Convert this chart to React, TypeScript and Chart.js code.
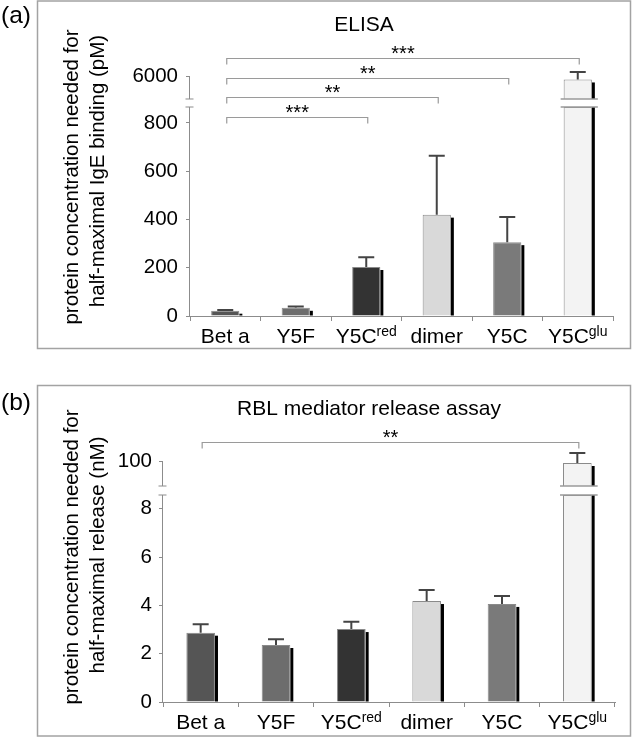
import React, { useEffect, useRef } from 'react';
import { Chart, registerables } from 'chart.js';

Chart.register(...registerables);

const FONT = '"Liberation Sans", Arial, Helvetica, sans-serif';
Chart.defaults.font.family = FONT;

// ---------- data ----------
const categories = ['Bet a', 'Y5F', 'Y5C', 'dimer', 'Y5C', 'Y5C'];
const categorySup = ['', '', 'red', '', '', 'glu'];
const barColors = ['#555555', '#6d6d6d', '#333333', '#d9d9d9', '#7a7a7a', '#f3f3f3'];

// (a) ELISA — pM
const elisaValues = [22, 34, 203, 420, 306, 5850];
const elisaErrors = [3, 5, 40, 244, 104, 320];
const elisaLowerTicks = [0, 200, 400, 600, 800];
const elisaUpperTicks = [6000];
const elisaBracketPairs = [[0, 5], [0, 4], [0, 3], [0, 2]];
const elisaStars = ['***', '**', '**', '***'];

// (b) RBL mediator release — nM
const rblValues = [2.87, 2.36, 3.02, 4.18, 4.06, 99.2];
const rblErrors = [0.35, 0.24, 0.3, 0.46, 0.33, 4];
const rblLowerTicks = [0, 2, 4, 6, 8];
const rblUpperTicks = [100];
const rblBracketPairs = [[0, 5]];
const rblStars = ['**'];

// ---------- layout specs ----------
interface PanelSpec {
  id: string;
  canvasTop: number;
  canvasHeight: number;
  label: string;
  labelBaseline: number;
  title: string;
  titleX: number;
  titleBaseline: number;
  yTitle: string[];
  yTitleX: number[];
  yTitleY: number[];
  frame: number[];
  values: number[];
  errors: number[];
  lowerTicks: number[];
  upperTicks: number[];
  brackets: number[][];
  stars: string[];
  lowerMax: number;
  upperMin: number;
  upperSegMin: number;
  upperMax: number;
  padTop: number;
  padRight: number;
  axisWidth: number;
  xAxisHeight: number;
  upperWeight: number;
  lowerWeight: number;
  barPct: number;
  tickPadding: number;
  bracketStart: number;
  bracketStep: number;
}

const panelA: PanelSpec = {
  id: 'a',
  canvasTop: 0,
  canvasHeight: 360,
  label: '(a)',
  labelBaseline: 23,
  title: 'ELISA',
  titleX: 364,
  titleBaseline: 31,
  yTitle: ['protein concentration needed for', 'half-maximal IgE binding (pM)'],
  yTitleX: [77.5, 104],
  yTitleY: [177, 171],
  frame: [37.5, 1, 630.5, 348.5],
  values: elisaValues,
  errors: elisaErrors,
  lowerTicks: elisaLowerTicks,
  upperTicks: elisaUpperTicks,
  brackets: elisaBracketPairs,
  stars: elisaStars,
  lowerMax: 866,
  upperMin: 4652,
  upperSegMin: 5000,
  upperMax: 6696,
  padTop: 60,
  padRight: 20,
  axisWidth: 190,
  xAxisHeight: 44,
  upperWeight: 47,
  lowerWeight: 209,
  barPct: 0.4,
  tickPadding: 8,
  bracketStart: -2,
  bracketStep: 19.7,
};

const panelB: PanelSpec = {
  id: 'b',
  canvasTop: 360,
  canvasHeight: 378,
  label: '(b)',
  labelBaseline: 50,
  title: 'RBL mediator release assay',
  titleX: 369,
  titleBaseline: 55,
  yTitle: ['protein concentration needed for', 'half-maximal release (nM)'],
  yTitleX: [77.5, 104],
  yTitleY: [197, 195],
  frame: [37.5, 25.5, 630.5, 376],
  values: rblValues,
  errors: rblErrors,
  lowerTicks: rblLowerTicks,
  upperTicks: rblUpperTicks,
  brackets: rblBracketPairs,
  stars: rblStars,
  lowerMax: 8.57,
  upperMin: 86.4,
  upperSegMin: 90,
  upperMax: 106.8,
  padTop: 84,
  padRight: 18,
  axisWidth: 163,
  xAxisHeight: 36,
  upperWeight: 51,
  lowerWeight: 207,
  barPct: 0.38,
  tickPadding: 7,
  bracketStart: -2,
  bracketStep: 19.7,
};

function makePlugin(s: PanelSpec) {
  const line = (ctx: CanvasRenderingContext2D, x1: number, y1: number, x2: number, y2: number) => {
    ctx.beginPath();
    ctx.moveTo(x1, y1);
    ctx.lineTo(x2, y2);
    ctx.stroke();
  };
  return {
    id: 'decor-' + s.id,
    beforeDatasetsDraw(chart: any) {
      const ctx: CanvasRenderingContext2D = chart.ctx;
      ctx.save();
      ctx.fillStyle = '#000';
      chart.data.datasets.forEach((ds: any, di: number) => {
        const meta = chart.getDatasetMeta(di);
        meta.data.forEach((el: any, i: number) => {
          if (ds.data[i] == null) return;
          const p = el.getProps(['x', 'y', 'base', 'width'], true);
          if (!isFinite(p.y) || !isFinite(p.base)) return;
          const clipped = di === 0 && s.values[i] > s.lowerMax;
          const top = p.y + (clipped ? 0 : 3);
          ctx.fillRect(p.x + p.width / 2, top, 3, p.base - top);
        });
      });
      ctx.restore();
    },
    afterDraw(chart: any) {
      const ctx: CanvasRenderingContext2D = chart.ctx;
      const xs = chart.scales.x;
      const yl = chart.scales.yLow;
      const yh = chart.scales.yHigh;
      const area = chart.chartArea;
      ctx.save();

      // error bars
      ctx.strokeStyle = '#444444';
      ctx.lineWidth = 2;
      s.values.forEach((v, i) => {
        const sc = v > s.lowerMax ? yh : yl;
        const x = xs.getPixelForValue(i);
        const y0 = sc.getPixelForValue(v);
        const y1 = sc.getPixelForValue(v + s.errors[i]);
        ctx.beginPath();
        ctx.moveTo(x, y0);
        ctx.lineTo(x, y1);
        ctx.moveTo(x - 8, y1);
        ctx.lineTo(x + 8, y1);
        ctx.stroke();
      });

      // broken y axis
      const ax = Math.round(area.left) - 0.5;
      const lowTop = yl.getPixelForValue(s.lowerMax);
      const lowBot = yl.getPixelForValue(0);
      const upTop = yh.getPixelForValue(s.upperTicks[s.upperTicks.length - 1]);
      const upBot = yh.getPixelForValue(s.upperSegMin);
      ctx.strokeStyle = '#8c8c8c';
      ctx.lineWidth = 1;
      line(ctx, ax, lowBot, ax, lowTop);
      line(ctx, ax - 4, lowTop, ax + 4, lowTop);
      line(ctx, ax, upBot, ax, upTop);
      line(ctx, ax - 4, upBot, ax + 4, upBot);

      // break marks across tall bars
      ctx.strokeStyle = '#9a9a9a';
      ctx.lineWidth = 1.5;
      const meta0 = chart.getDatasetMeta(0);
      s.values.forEach((v, i) => {
        if (v <= s.lowerMax) return;
        const el = meta0.data[i];
        const x = el.x;
        const w = el.width;
        line(ctx, x - w / 2 - 3, lowTop, x + w / 2 + 6, lowTop);
        line(ctx, x - w / 2 - 3, upBot, x + w / 2 + 6, upBot);
      });

      // significance brackets
      ctx.strokeStyle = '#9a9a9a';
      ctx.lineWidth = 1.2;
      ctx.fillStyle = '#000';
      ctx.font = `20px ${FONT}`;
      ctx.textAlign = 'center';
      ctx.textBaseline = 'alphabetic';
      s.brackets.forEach(([a, b], k) => {
        const y = Math.round(area.top + s.bracketStart + k * s.bracketStep) + 0.5;
        const x1 = xs.getPixelForValue(a) + 1.5;
        const x2 = xs.getPixelForValue(b) + 1.5;
        ctx.beginPath();
        ctx.moveTo(x1, y + 6);
        ctx.lineTo(x1, y);
        ctx.lineTo(x2, y);
        ctx.lineTo(x2, y + 6);
        ctx.stroke();
        ctx.fillText(s.stars[k], (x1 + x2) / 2, y + 1);
      });

      // category labels with superscripts
      const baseFont = `21px ${FONT}`;
      const supFont = `14px ${FONT}`;
      const labelY = area.bottom + 27;
      ctx.textAlign = 'left';
      categories.forEach((c, i) => {
        const cx = xs.getPixelForValue(i);
        ctx.font = baseFont;
        const wb = ctx.measureText(c).width;
        ctx.font = supFont;
        const ws = categorySup[i] ? ctx.measureText(categorySup[i]).width : 0;
        const x0 = cx - (wb + ws) / 2;
        ctx.font = baseFont;
        ctx.fillText(c, x0, labelY);
        if (categorySup[i]) {
          ctx.font = supFont;
          ctx.fillText(categorySup[i], x0 + wb, labelY - 7);
        }
      });

      // title
      ctx.font = `21px ${FONT}`;
      ctx.textAlign = 'center';
      ctx.fillText(s.title, s.titleX, s.titleBaseline);

      // y-axis title (two rotated lines)
      ctx.font = `20.5px ${FONT}`;
      s.yTitle.forEach((t, k) => {
        ctx.save();
        ctx.translate(s.yTitleX[k], s.yTitleY[k]);
        ctx.rotate(-Math.PI / 2);
        ctx.textAlign = 'center';
        ctx.fillText(t, 0, 0);
        ctx.restore();
      });

      // panel frame
      ctx.strokeStyle = '#a3a3a3';
      ctx.lineWidth = 1.5;
      const [fx1, fy1, fx2, fy2] = s.frame;
      ctx.strokeRect(fx1, fy1, fx2 - fx1, fy2 - fy1);

      // panel label
      ctx.font = `24.5px ${FONT}`;
      ctx.textAlign = 'left';
      ctx.fillStyle = '#000';
      ctx.fillText(s.label, 1, s.labelBaseline);

      ctx.restore();
    },
  };
}

function buildConfig(s: PanelSpec): any {
  const tickFont = { family: FONT, size: 20.5 };
  const lowerData = s.values.map((v) => Math.min(v, s.lowerMax));
  const upperData = s.values.map((v) => (v > s.lowerMax ? [s.upperSegMin, v] : null));
  const barCommon = {
    backgroundColor: barColors,
    borderColor: '#8a8a8a',
    borderWidth: 1,
    barPercentage: s.barPct,
    categoryPercentage: 1,
    grouped: false,
  };
  const yCommon = {
    type: 'linear',
    position: 'left',
    stack: 'ybroken',
    border: { display: false },
    grid: { drawOnChartArea: false, drawTicks: true, tickLength: 4, color: '#8c8c8c' },
    ticks: { font: tickFont, color: '#000', padding: s.tickPadding, callback: (v: any) => String(v) },
    afterFit: (sc: any) => {
      sc.width = s.axisWidth;
    },
  };
  return {
    type: 'bar',
    data: {
      labels: categories,
      datasets: [
        { ...barCommon, data: lowerData, yAxisID: 'yLow' },
        { ...barCommon, data: upperData, yAxisID: 'yHigh' },
      ],
    },
    options: {
      responsive: false,
      animation: false,
      events: [],
      layout: { padding: { top: s.padTop, right: s.padRight, left: 0, bottom: 0 } },
      plugins: { legend: { display: false }, tooltip: { enabled: false }, title: { display: false } },
      scales: {
        x: {
          type: 'category',
          offset: true,
          border: { display: true, color: '#8c8c8c', width: 1 },
          grid: { display: true, drawOnChartArea: false, drawTicks: true, tickLength: 5, offset: true, color: '#8c8c8c' },
          ticks: { display: false },
          afterFit: (sc: any) => {
            sc.height = s.xAxisHeight;
          },
        },
        yLow: {
          ...yCommon,
          weight: 1,
          stackWeight: s.lowerWeight,
          min: 0,
          max: s.lowerMax,
          afterBuildTicks: (sc: any) => {
            sc.ticks = s.lowerTicks.map((v) => ({ value: v }));
          },
        },
        yHigh: {
          ...yCommon,
          weight: 2,
          stackWeight: s.upperWeight,
          min: s.upperMin,
          max: s.upperMax,
          afterBuildTicks: (sc: any) => {
            sc.ticks = s.upperTicks.map((v) => ({ value: v }));
          },
        },
      },
    },
    plugins: [makePlugin(s)],
  };
}

function Panel({ spec }: { spec: PanelSpec }) {
  const ref = useRef<HTMLCanvasElement>(null);
  useEffect(() => {
    const canvas = ref.current;
    if (!canvas) return;
    const chart = new Chart(canvas, buildConfig(spec));
    return () => chart.destroy();
  }, [spec]);
  return (
    <canvas
      ref={ref}
      width={633}
      height={spec.canvasHeight}
      style={{ position: 'absolute', left: 0, top: spec.canvasTop, width: 633, height: spec.canvasHeight }}
    />
  );
}

export default function App() {
  return (
    <div style={{ position: 'fixed', left: 0, top: 0, width: 633, height: 738, background: '#ffffff', overflow: 'hidden' }}>
      <Panel spec={panelA} />
      <Panel spec={panelB} />
    </div>
  );
}
